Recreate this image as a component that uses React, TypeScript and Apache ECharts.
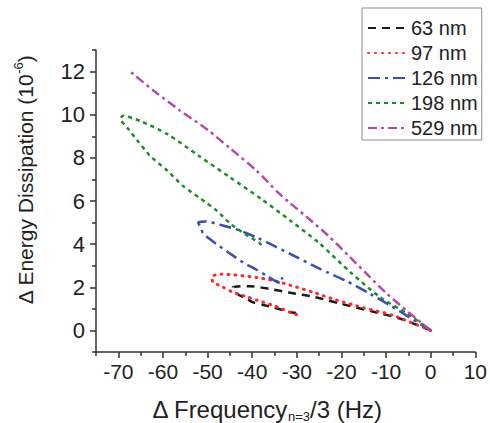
import React, { useEffect, useRef } from "react";
import * as echarts from "echarts";

const FONT = "'Liberation Sans', Arial, sans-serif";

const seriesNames = ["63 nm", "97 nm", "126 nm", "198 nm", "529 nm"];

const x63 = [0, -6.9, -13.5, -20.4, -26, -31.5, -36, -40.5, -44.3, -43.4, -41.5, -39.8, -37.5, -35.3, -33.2, -31.5, -29.8];
const y63 = [0, 0.55, 0.9, 1.25, 1.55, 1.75, 1.92, 2.05, 2.0, 1.7, 1.5, 1.3, 1.18, 1.07, 0.95, 0.84, 0.8];

const x97 = [0, -8.5, -15, -21, -26.4, -31.5, -35, -38.9, -44.3, -47, -49, -48.8, -46.5, -44.3, -41.5, -38.9, -35.3, -31.5, -28.9];
const y97 = [0, 0.7, 1.05, 1.4, 1.77, 2.1, 2.3, 2.45, 2.58, 2.6, 2.5, 2.25, 2.0, 1.77, 1.58, 1.4, 1.16, 0.84, 0.65];

const x126 = [0, -4.7, -9, -13.6, -19, -24.8, -31.5, -38.9, -43, -47.2, -50.5, -52.1, -51.5, -51, -48, -45, -42, -38.9, -36.5, -34.5, -33.5, -33.3, -33.6];
const y126 = [0, 0.6, 1.15, 1.7, 2.3, 2.85, 3.55, 4.3, 4.65, 4.9, 5.05, 5.0, 4.75, 4.5, 4.0, 3.57, 3.15, 2.8, 2.5, 2.25, 2.2, 2.45, 2.3];

const x198 = [0, -5, -11.4, -18, -25, -31.5, -38, -45, -52, -59, -65, -69, -69.5, -68, -65.5, -62.9, -59, -55.5, -51.5, -47.9, -45, -41.5, -38.3, -37.8];
const y198 = [0, 0.75, 1.55, 2.7, 4.05, 5.1, 6.1, 7.1, 8.1, 9.1, 9.7, 9.95, 9.8, 9.4, 8.75, 8.1, 7.4, 6.7, 6.1, 5.55, 4.97, 4.45, 4.05, 3.85];

const x529 = [0, -5, -9.8, -14, -18.1, -23, -28, -31.5, -34, -39, -45, -50, -56.2, -62, -67.3];
const y529 = [0, 0.85, 1.7, 2.55, 3.4, 4.4, 5.3, 5.9, 6.35, 7.4, 8.45, 9.3, 10.2, 11.1, 12.0];

const xMajorTicks = [-70, -60, -50, -40, -30, -20, -10, 0, 10];
const xMinorTicks = [-75, -65, -55, -45, -35, -25, -15, -5, 5];
const yMajorTicks = [0, 2, 4, 6, 8, 10, 12];
const yMinorTicks = [-1, 1, 3, 5, 7, 9, 11, 13];

const colors = ["#1a1a1a", "#ff2a2a", "#3a4db0", "#1c8c2c", "#b848a8"];
const dashes: any[] = [[8, 6], [1, 6], [12, 5, 3, 5], [4, 4], [9, 4, 3, 4]];

const pair = (xs: number[], ys: number[]) => xs.map((x, i) => [x, ys[i]]);
const allData = [pair(x63, y63), pair(x97, y97), pair(x126, y126), pair(x198, y198), pair(x529, y529)];

const axisColor = "#333";

export default function App() {
  const ref = useRef<HTMLDivElement>(null);
  useEffect(() => {
    document.body.style.margin = "0";
    if (!ref.current) return;
    const chart = echarts.init(ref.current, undefined, { renderer: "svg" });
    const mainX = {
      type: "value",
      min: -75,
      max: 10,
      position: "bottom",
      axisLine: { onZero: false, lineStyle: { color: axisColor, width: 1.5 } },
      axisTick: { customValues: xMajorTicks, length: 6, lineStyle: { color: axisColor, width: 1.5 } },
      axisLabel: { customValues: xMajorTicks, fontSize: 21, color: "#222", margin: 9, fontFamily: FONT },
      splitLine: { show: false },
    };
    const minorX = {
      type: "value",
      min: -75,
      max: 10,
      position: "bottom",
      axisLine: { show: false, onZero: false },
      axisTick: { customValues: xMinorTicks, length: 4, lineStyle: { color: axisColor, width: 1.5 } },
      axisLabel: { show: false },
      splitLine: { show: false },
    };
    const mainY = {
      type: "value",
      min: -1,
      max: 13,
      position: "left",
      axisLine: { show: true, onZero: false, lineStyle: { color: axisColor, width: 1.5 } },
      axisTick: { show: true, customValues: yMajorTicks, length: 6, lineStyle: { color: axisColor, width: 1.5 } },
      axisLabel: { customValues: yMajorTicks, fontSize: 22, color: "#222", margin: 11, fontFamily: FONT },
      splitLine: { show: false },
    };
    const minorY = {
      type: "value",
      min: -1,
      max: 13,
      position: "left",
      axisLine: { show: false, onZero: false },
      axisTick: { show: true, customValues: yMinorTicks, length: 4, lineStyle: { color: axisColor, width: 1.5 } },
      axisLabel: { show: false },
      splitLine: { show: false },
    };
    chart.setOption({
      animation: false,
      backgroundColor: "#fff",
      grid: { left: 96, right: 14, top: 50, bottom: 71, containLabel: false },
      xAxis: [mainX, minorX],
      yAxis: [mainY, minorY],
      legend: {
        data: seriesNames,
        orient: "vertical",
        left: 362,
        top: 8,
        padding: [10, 4, 2, 5],
        itemGap: 5,
        itemWidth: 38,
        itemHeight: 20,
        backgroundColor: "#fff",
        borderColor: "#8a8a8a",
        borderWidth: 1,
        itemStyle: { opacity: 0 },
        textStyle: { fontSize: 20, color: "#222", fontFamily: FONT },
      },
      series: seriesNames.map((name, i) => ({
        name,
        type: "line",
        xAxisIndex: 0,
        yAxisIndex: 0,
        data: allData[i],
        symbol: "none",
        showSymbol: false,
        smooth: 0.25,
        lineStyle: { color: colors[i], width: i === 1 ? 3 : 2.5, type: dashes[i], cap: i === 1 ? "round" : "butt" },
        itemStyle: { color: colors[i] },
      })),
      graphic: [
        {
          type: "text",
          x: 24,
          y: 180,
          rotation: Math.PI / 2,
          style: {
            text: "{a|Δ Energy Dissipation (10}{s|-6}{a|)}",
            align: "center",
            verticalAlign: "middle",
            fill: "#222",
            rich: {
              a: { fontSize: 21, fontFamily: FONT, fill: "#222", verticalAlign: "top", padding: [3, 0, 0, 0] },
              s: { fontSize: 13, fontFamily: FONT, fill: "#222", verticalAlign: "top" },
            },
          },
        },
        {
          type: "text",
          x: 267,
          y: 397,
          style: {
            text: "{a|Δ Frequency}{b|n=3}{a|/3 (Hz)}",
            align: "center",
            verticalAlign: "top",
            fill: "#222",
            rich: {
              a: { fontSize: 24, lineHeight: 24, fontFamily: FONT, fill: "#222", verticalAlign: "top" },
              b: { fontSize: 13, lineHeight: 13, fontFamily: FONT, fill: "#222", verticalAlign: "top", padding: [13, 0, 0, 0] },
            },
          },
        },
      ],
    });
    return () => chart.dispose();
  }, []);
  return <div ref={ref} style={{ width: 490, height: 423 }} />;
}
